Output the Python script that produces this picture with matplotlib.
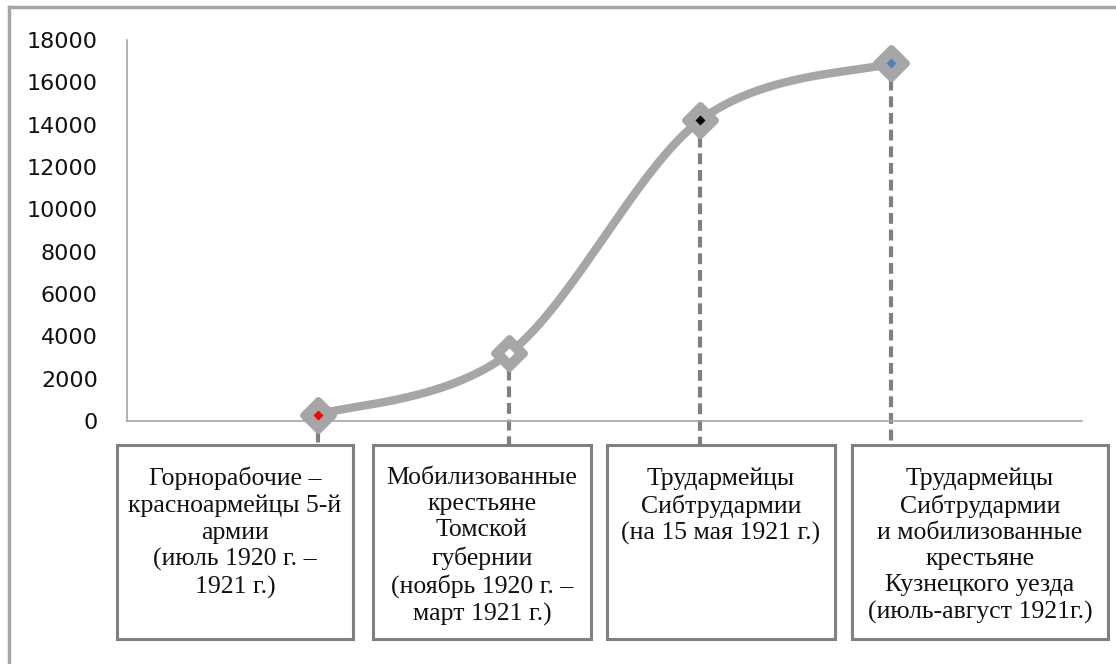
import numpy as np
import matplotlib
matplotlib.use("Agg")
import matplotlib.pyplot as plt
from matplotlib.patches import Rectangle
from matplotlib.lines import Line2D
from matplotlib.markers import MarkerStyle

# ---- data ----
categories = [
    "Горнорабочие –\nкрасноармейцы 5-й\nармии\n(июль 1920 г. –\n1921 г.)",
    "Мобилизованные\nкрестьяне\nТомской\nгубернии\n(ноябрь 1920 г. –\nмарт 1921 г.)",
    "Трудармейцы\nСибтрудармии\n(на 15 мая 1921 г.)",
    "Трудармейцы\nСибтрудармии\nи мобилизованные\nкрестьяне\nКузнецкого уезда\n(июль-август 1921г.)",
]
values = [300, 3200, 14200, 16900]
inner_colors = ["#FF0000", "#FFFFFF", "#000000", "#4F81BD"]
yticks = [0, 2000, 4000, 6000, 8000, 10000, 12000, 14000, 16000, 18000]

W, H = 1116, 664
fig = plt.figure(figsize=(W / 100, H / 100), dpi=100)
fig.patch.set_facecolor("white")

# main axes in pixel layout
ax_l, ax_r, ax_t, ax_b = 127, 1082, 40, 421
ax = fig.add_axes([ax_l / W, 1 - ax_b / H, (ax_r - ax_l) / W, (ax_b - ax_t) / H])
ax.set_xlim(0, len(values) + 1)
ax.set_ylim(0, 18000)
ax.set_yticks(yticks)
ax.set_yticklabels([str(v) for v in yticks], fontsize=16, family="DejaVu Sans", color="#111111")
ax.tick_params(axis="y", length=0, pad=21)
ax.set_xticks([])
for s in ["top", "right"]:
    ax.spines[s].set_visible(False)
for s in ["left", "bottom"]:
    ax.spines[s].set_color("#A6A6A6")
    ax.spines[s].set_linewidth(1.2)
ax.patch.set_alpha(0)

xs = np.arange(1, len(values) + 1, dtype=float)
ys = np.array(values, dtype=float)

# smoothed line (Bezier through points, Excel-like smoothing)
def smooth(x, y, n=60):
    P = np.column_stack([x, y])
    out = []
    for i in range(len(P) - 1):
        p0 = P[i - 1] if i > 0 else P[i]
        p1 = P[i]
        p2 = P[i + 1]
        p3 = P[i + 2] if i + 2 < len(P) else P[i + 1]
        c1 = p1 + (p2 - p0) / 6.0
        c2 = p2 - (p3 - p1) / 6.0
        t = np.linspace(0, 1, n)[:, None]
        seg = (1 - t) ** 3 * p1 + 3 * (1 - t) ** 2 * t * c1 + 3 * (1 - t) * t ** 2 * c2 + t ** 3 * p2
        out.append(seg if i == 0 else seg[1:])
    out = np.vstack(out)
    return out[:, 0], out[:, 1]

sx, sy = smooth(xs, ys)

# drop lines down to box tops
box_top_px = 445
inv = ax.transData.inverted()
y_box = inv.transform((0, H - box_top_px))[1]
for x, y in zip(xs, ys):
    ax.plot([x, x], [y, y_box], color="#808080", lw=3, dashes=(2.6, 1.4),
            clip_on=False, zorder=2, solid_capstyle="butt", dash_capstyle="butt")

ax.plot(sx, sy, color="#A6A6A6", lw=6, zorder=3, solid_capstyle="round", clip_on=False)
outer = MarkerStyle("D", joinstyle="round")
ax.plot(xs, ys, linestyle="none", marker=outer, ms=15, mfc="#A6A6A6", mec="#A6A6A6",
        mew=5, zorder=4, clip_on=False)
for x, y, c in zip(xs, ys, inner_colors):
    ax.plot([x], [y], linestyle="none", marker="D", ms=5.3, mfc=c, mec="none", zorder=5, clip_on=False)

# overlay for boxes and frame (pixel coordinates)
ov = fig.add_axes([0, 0, 1, 1], zorder=-1)
ov.set_xlim(0, W)
ov.set_ylim(H, 0)
ov.axis("off")
ov.patch.set_alpha(0)

ov.add_line(Line2D([9, W], [7, 7], color="#A6A6A6", lw=2.5))
ov.add_line(Line2D([9, 9], [7, H], color="#A6A6A6", lw=2.5))

boxes = [(117, 353), (373, 591), (607, 835), (852, 1108)]
box_bottom_px = 639
for (l, r), txt in zip(boxes, categories):
    ov.add_patch(Rectangle((l, box_top_px), r - l, box_bottom_px - box_top_px,
                           facecolor="white", edgecolor="#808080", lw=2.2))
    ov.text((l + r) / 2, 467, txt, ha="center", va="top", fontsize=18.5,
            family="Liberation Serif", color="#111111", linespacing=1.25)

fig.savefig("out.png", dpi=100, facecolor="white")
